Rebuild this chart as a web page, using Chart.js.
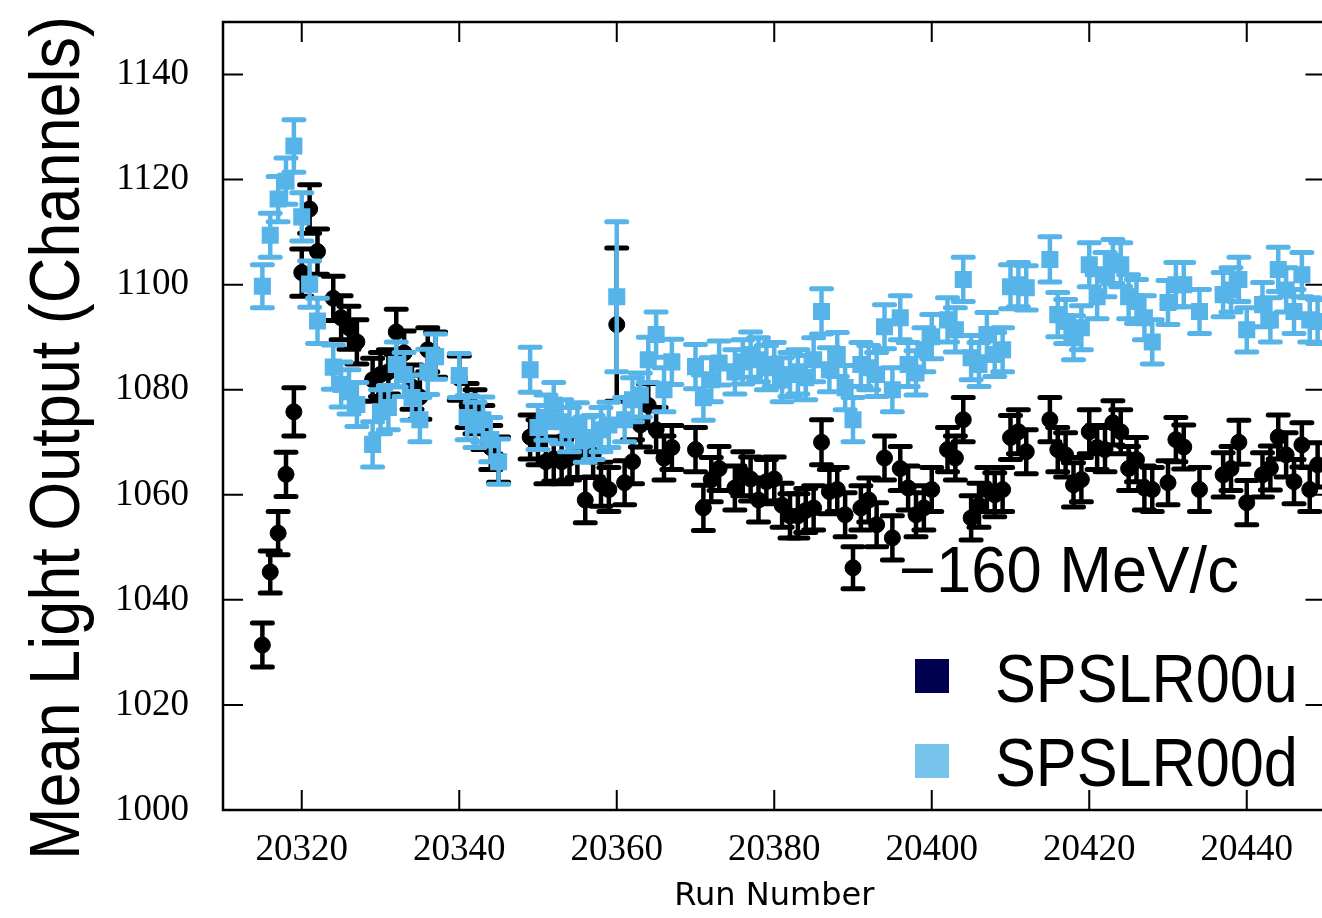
<!DOCTYPE html>
<html lang="en">
<head>
<meta charset="UTF-8">
<title>Mean Light Output vs Run Number</title>
<script src="https://cdn.jsdelivr.net/npm/chart.js"></script>
<style>
  html, body { margin: 0; padding: 0; overflow: hidden; background: #fff; }
  #wrap { position: relative; width: 1338px; height: 918px; }
</style>
</head>
<body>
<div id="wrap"><canvas id="lightChart" width="1338" height="918"></canvas></div>
<script>
// run numbers (shared by both channels)
const runs = [
  20315, 20316, 20317, 20318, 20319, 20320, 20321, 20322, 20324, 20325,
  20326, 20327, 20329, 20330, 20331, 20332, 20333, 20334, 20335, 20336,
  20337, 20340, 20341, 20342, 20343, 20344, 20345, 20349, 20350, 20351,
  20352, 20353, 20354, 20355, 20356, 20357, 20358, 20359, 20360, 20361,
  20362, 20363, 20364, 20365, 20366, 20367, 20370, 20371, 20372, 20373,
  20375, 20376, 20377, 20378, 20379, 20380, 20381, 20382, 20383, 20384,
  20385, 20386, 20387, 20388, 20389, 20390, 20391, 20392, 20393, 20394,
  20395, 20396, 20397, 20398, 20399, 20400, 20402, 20403, 20404, 20405,
  20406, 20407, 20408, 20409, 20410, 20411, 20412, 20415, 20416, 20417,
  20418, 20419, 20420, 20421, 20422, 20423, 20424, 20425, 20426, 20427,
  20428, 20430, 20431, 20432, 20434, 20437, 20438, 20439, 20440, 20442,
  20443, 20444, 20445, 20446, 20447, 20448, 20449
];

// SPSLR00u mean light output and error
const lightU = [
  1031.4, 1045.3, 1052.7, 1063.9, 1075.8, 1102.3, 1114.4, 1106.3, 1097.4, 1093.7,
  1091.8, 1089.1, 1081.9, 1082.9, 1083.4, 1091.0, 1087.0, 1080.5, 1078.6, 1087.6,
  1086.7, 1082.2, 1077.0, 1075.8, 1072.8, 1069.0, 1066.7, 1071.0, 1070.0, 1066.3,
  1066.8, 1066.3, 1067.0, 1067.5, 1059.0, 1067.6, 1062.0, 1061.0, 1092.4, 1062.3,
  1066.3, 1073.3, 1077.0, 1072.4, 1067.0, 1069.0, 1068.6, 1057.5, 1062.9, 1065.0,
  1061.3, 1064.0, 1063.0, 1059.0, 1062.5, 1063.0, 1058.0, 1056.0, 1056.0, 1057.0,
  1057.5, 1070.0, 1060.6, 1061.0, 1056.2, 1046.1, 1057.5, 1059.0, 1054.3, 1067.0,
  1051.8, 1065.0, 1061.3, 1056.2, 1057.5, 1061.0, 1068.6, 1067.0, 1074.3, 1055.6,
  1058.0, 1061.0, 1060.0, 1061.0, 1070.9, 1072.0, 1068.2, 1074.3, 1068.6, 1067.6,
  1061.9, 1062.9, 1072.0, 1069.0, 1068.6, 1073.7, 1072.0, 1065.0, 1066.7, 1061.3,
  1061.0, 1062.3, 1070.5, 1069.1, 1061.0, 1063.8, 1065.0, 1070.0, 1058.5, 1063.8,
  1065.1, 1071.0, 1067.6, 1062.5, 1069.5, 1061.0, 1065.7
];
const errU = [
  4.2, 4.0, 4.1, 4.2, 4.6, 4.5, 4.6, 4.3, 4.2, 4.2,
  4.1, 4.2, 4.1, 4.2, 4.2, 4.3, 4.2, 4.2, 4.2, 4.2,
  4.3, 4.2, 4.2, 4.2, 4.2, 4.2, 4.3, 4.2, 4.3, 4.2,
  4.2, 4.2, 4.2, 4.2, 4.3, 4.2, 4.2, 4.2, 14.6, 4.2,
  4.2, 4.2, 4.2, 4.2, 4.2, 4.2, 4.2, 4.3, 4.2, 4.2,
  4.2, 4.2, 4.2, 4.2, 4.2, 4.2, 4.2, 4.2, 4.2, 4.2,
  4.2, 4.3, 4.2, 4.2, 4.2, 4.0, 4.2, 4.2, 4.2, 4.2,
  4.2, 4.2, 4.2, 4.2, 4.2, 4.2, 4.2, 4.2, 4.2, 4.2,
  4.2, 4.2, 4.2, 4.2, 4.2, 4.2, 4.2, 4.2, 4.2, 4.2,
  4.2, 4.2, 4.2, 4.2, 4.2, 4.2, 4.2, 4.2, 4.2, 4.2,
  4.2, 4.2, 4.2, 4.2, 4.2, 4.2, 4.2, 4.2, 4.2, 4.2,
  4.2, 4.2, 4.2, 4.2, 4.2, 4.2, 4.2
];

// SPSLR00d mean light output and error
const lightD = [
  1099.7, 1109.4, 1116.3, 1119.7, 1126.4, 1112.9, 1100.1, 1093.1, 1084.3, 1081.0,
  1079.6, 1077.2, 1069.6, 1075.8, 1076.6, 1084.8, 1082.9, 1078.5, 1074.3, 1083.4,
  1086.3, 1082.7, 1074.7, 1073.3, 1074.3, 1070.5, 1066.3, 1083.8, 1072.8, 1074.7,
  1077.1, 1073.9, 1072.4, 1073.3, 1070.5, 1070.9, 1072.4, 1073.3, 1097.7, 1074.3,
  1078.1, 1079.0, 1085.7, 1090.5, 1080.0, 1085.3, 1084.4, 1078.5, 1081.9, 1085.1,
  1083.4, 1085.3, 1086.7, 1085.7, 1084.2, 1084.8, 1081.9, 1082.9, 1083.4, 1082.3,
  1085.7, 1094.9, 1083.8, 1086.7, 1080.4, 1074.3, 1084.8, 1084.2, 1082.9, 1092.0,
  1080.0, 1093.7, 1084.8, 1083.2, 1087.6, 1090.1, 1093.3, 1091.4, 1101.0, 1086.1,
  1084.8, 1090.5, 1086.7, 1087.6, 1099.6, 1100.0, 1099.4, 1104.8, 1094.3, 1093.0,
  1089.9, 1091.8, 1103.8, 1097.7, 1101.9, 1104.4, 1103.8, 1097.7, 1096.8, 1093.7,
  1089.1, 1096.6, 1100.0, 1100.0, 1094.9, 1098.1, 1099.0, 1101.0, 1091.4, 1096.2,
  1093.3, 1102.9, 1099.0, 1094.9, 1101.9, 1093.3, 1093.0
];
const errD = [
  4.1, 4.2, 4.3, 4.4, 5.0, 4.6, 4.4, 4.3, 4.2, 4.3,
  4.2, 4.2, 4.3, 4.2, 4.2, 4.3, 4.2, 4.3, 4.2, 4.3,
  4.3, 4.2, 4.2, 4.3, 4.3, 4.2, 4.3, 4.3, 4.2, 4.3,
  4.3, 4.2, 4.2, 4.2, 4.3, 4.2, 4.2, 4.3, 14.3, 4.2,
  4.2, 4.2, 4.3, 4.3, 4.2, 4.3, 4.2, 4.3, 4.2, 4.2,
  4.2, 4.2, 4.3, 4.2, 4.2, 4.2, 4.2, 4.2, 4.2, 4.2,
  4.2, 4.3, 4.2, 4.2, 4.2, 4.2, 4.2, 4.2, 4.2, 4.2,
  4.2, 4.2, 4.2, 4.2, 4.2, 4.2, 4.2, 4.2, 4.2, 4.2,
  4.2, 4.2, 4.2, 4.2, 4.2, 4.2, 4.2, 4.3, 4.2, 4.2,
  4.2, 4.2, 4.2, 4.2, 4.2, 4.2, 4.2, 4.2, 4.2, 4.2,
  4.2, 4.2, 4.2, 4.2, 4.2, 4.2, 4.2, 4.2, 4.2, 4.2,
  4.2, 4.2, 4.2, 4.2, 4.2, 4.2, 4.2
];

const xTicks = [20320, 20340, 20360, 20380, 20400, 20420, 20440];
const yTicks = [1000, 1020, 1040, 1060, 1080, 1100, 1120, 1140];

const BLUE = '#56b4e9';

function toPoints(vals, errs) {
  const pts = [];
  for (let i = 0; i < runs.length; i++) {
    if (vals[i] == null) continue;
    pts.push({ x: runs[i], y: vals[i], e: errs[i] });
  }
  return pts;
}

// draws text squeezed horizontally (the original labels use a narrow sans)
function squeezedText(ctx, text, x, y, font, sx, align) {
  ctx.save();
  ctx.translate(x, y);
  ctx.scale(sx, 1);
  ctx.font = font;
  ctx.textAlign = align || 'left';
  ctx.textBaseline = 'alphabetic';
  ctx.fillText(text, 0, 0);
  ctx.restore();
}

const errorBars = {
  id: 'errorBars',
  beforeDatasetDraw(chart, args) {
    const ds = chart.data.datasets[args.index];
    const yScale = chart.scales.y;
    const area = chart.chartArea;
    const ctx = chart.ctx;
    ctx.save();
    ctx.beginPath();
    ctx.rect(area.left, area.top, area.right - area.left, area.bottom - area.top);
    ctx.clip();
    ctx.strokeStyle = ds.borderColor;
    args.meta.data.forEach((pt, i) => {
      const d = ds.data[i];
      const top = yScale.getPixelForValue(d.y + d.e);
      const bot = yScale.getPixelForValue(d.y - d.e);
      ctx.lineWidth = 4.5;
      ctx.lineCap = 'butt';
      ctx.beginPath();
      ctx.moveTo(pt.x, top);
      ctx.lineTo(pt.x, bot);
      ctx.stroke();
      ctx.lineWidth = 5;
      ctx.lineCap = 'round';
      ctx.beginPath();
      ctx.moveTo(pt.x - 10, top);
      ctx.lineTo(pt.x + 10, top);
      ctx.moveTo(pt.x - 10, bot);
      ctx.lineTo(pt.x + 10, bot);
      ctx.stroke();
    });
    ctx.restore();
  },
  afterDraw(chart) {
    const ctx = chart.ctx;
    const a = chart.chartArea;
    const xs = chart.scales.x, ys = chart.scales.y;
    ctx.save();
    ctx.strokeStyle = '#000';
    ctx.lineWidth = 2.5;
    ctx.strokeRect(a.left, a.top, a.right - a.left, a.bottom - a.top);

    // inward tick marks on all four sides
    ctx.lineWidth = 2;
    ctx.beginPath();
    xTicks.forEach(v => {
      const px = xs.getPixelForValue(v);
      ctx.moveTo(px, a.bottom); ctx.lineTo(px, a.bottom - 20);
      ctx.moveTo(px, a.top); ctx.lineTo(px, a.top + 20);
    });
    yTicks.forEach(v => {
      const py = ys.getPixelForValue(v);
      ctx.moveTo(a.left, py); ctx.lineTo(a.left + 20, py);
      ctx.moveTo(a.right, py); ctx.lineTo(a.right - 20, py);
    });
    ctx.stroke();

    ctx.fillStyle = '#000';
    // axis titles
    ctx.save();
    ctx.translate(79, 438);
    ctx.rotate(-Math.PI / 2);
    squeezedText(ctx, 'Mean Light Output (Channels)', 0, 0, '70px "Liberation Sans"', 0.9, 'center');
    ctx.restore();
    ctx.font = '32px "DejaVu Sans"';
    ctx.textAlign = 'center';
    ctx.fillText('Run Number', (a.left + a.right) / 2, 905);

    // beam momentum label
    squeezedText(ctx, '\u2212160 MeV/c', 899, 592, '64px "Liberation Sans"', 0.99);

    // legend
    ctx.fillStyle = '#000050';
    ctx.fillRect(915, 659, 34, 34);
    ctx.fillStyle = '#76c4ec';
    ctx.fillRect(915, 744, 34, 34);
    ctx.fillStyle = '#000';
    squeezedText(ctx, 'SPSLR00u', 995, 702, '68px "Liberation Sans"', 0.9);
    squeezedText(ctx, 'SPSLR00d', 995, 786, '68px "Liberation Sans"', 0.9);
    ctx.restore();
  }
};

const tickFont = { family: '"Liberation Serif", serif', size: 37 };

new Chart(document.getElementById('lightChart'), {
  type: 'scatter',
  data: {
    datasets: [
      {
        label: 'SPSLR00d',
        data: toPoints(lightD, errD),
        pointStyle: 'rect',
        pointRadius: 11,
        borderWidth: 1.5,
        borderColor: BLUE,
        backgroundColor: BLUE
      },
      {
        label: 'SPSLR00u',
        data: toPoints(lightU, errU),
        pointStyle: 'circle',
        pointRadius: 8,
        borderWidth: 1,
        borderColor: '#000',
        backgroundColor: '#000'
      }
    ]
  },
  options: {
    responsive: false,
    animation: false,
    devicePixelRatio: 1,
    layout: { padding: { top: 22, right: 5, left: 0, bottom: 0 } },
    plugins: { legend: { display: false }, tooltip: { enabled: false } },
    scales: {
      x: {
        type: 'linear',
        min: 20310,
        max: 20450,
        afterFit: s => { s.height = 108; s.paddingLeft = 0; s.paddingRight = 0; },
        afterBuildTicks: s => { s.ticks = xTicks.map(v => ({ value: v })); },
        grid: { display: false, drawTicks: false },
        border: { display: false },
        ticks: {
          color: '#000', font: tickFont, padding: 18,
          maxRotation: 0, autoSkip: false,
          callback: v => String(v)
        }
      },
      y: {
        type: 'linear',
        min: 1000,
        max: 1150,
        afterFit: s => { s.width = 223; s.paddingTop = 0; s.paddingBottom = 0; },
        afterBuildTicks: s => { s.ticks = yTicks.map(v => ({ value: v })); },
        grid: { display: false, drawTicks: false },
        border: { display: false },
        ticks: {
          color: '#000', font: tickFont, padding: 34,
          autoSkip: false,
          callback: v => String(v)
        }
      }
    }
  },
  plugins: [errorBars]
});
</script>
</body>
</html>
